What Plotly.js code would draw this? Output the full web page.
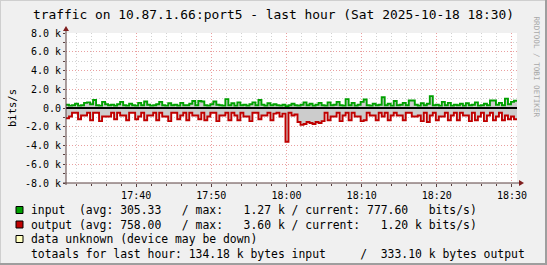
<!DOCTYPE html>
<html><head><meta charset="utf-8">
<script src="https://cdn.plot.ly/plotly-3.0.1.min.js"></script>
<style>html,body{margin:0;padding:0;background:#f0f0f0;}#chart{width:547px;height:265px;}</style>
</head><body><div id="chart"></div>
<script>
// ---- data ----
const titleText = "traffic on 10.87.1.66:port5 - last hour (Sat 2025-10-18 18:30)";
const startTime = "2025-10-18 17:30:40";
const endTime = "2025-10-18 18:30:40";
const stepSeconds = 24;
const inputBits = [
 350,250,300,450,250,300,550,600,400,850,
 300,250,650,400,300,350,250,400,650,300,
 250,450,300,250,550,300,700,350,250,300,
 400,650,300,250,500,300,350,250,550,300,
 300,450,750,300,750,700,300,250,400,700,
 350,300,250,950,300,500,250,600,300,350,
 250,400,600,300,850,350,250,500,300,400,
 300,250,350,200,300,450,300,250,350,600,
 300,450,250,350,550,300,250,600,300,350,
 650,300,250,950,300,550,250,350,650,900,
 300,250,450,300,350,1150,300,450,250,750,
 300,350,550,300,800,800,350,250,500,300,
 450,1270,300,350,250,650,300,550,250,350,
 300,450,250,500,300,350,600,250,300,450,
 300,800,800,350,550,300,1000,400,650,778
];
const outputBits = [
 -1100,-900,-500,-500,-1200,-800,-800,-500,-1300,-500,
 -500,-1400,-900,-900,-900,-500,-1200,-500,-800,-800,
 -1300,-500,-500,-1200,-900,-500,-1300,-800,-800,-500,
 -1300,-500,-900,-900,-1400,-500,-500,-1200,-800,-500,
 -1300,-500,-800,-800,-1200,-500,-1300,-900,-500,-500,
 -1400,-800,-800,-500,-1300,-500,-800,-1300,-500,-900,
 -900,-1400,-500,-500,-1200,-800,-800,-500,-1300,-600,
 -500,-900,-600,-3600,-500,-800,-700,-1500,-1800,-1700,
 -1500,-1600,-1700,-1500,-1600,-1400,-500,-1300,-900,-900,
 -500,-1400,-800,-500,-1300,-500,-900,-900,-1400,-1300,
 -500,-800,-800,-1300,-500,-900,-500,-1300,-800,-500,
 -800,-800,-1300,-500,-500,-900,-900,-800,-1400,-500,
 -1500,-800,-500,-1300,-900,-900,-500,-1300,-800,-500,
 -1300,-500,-800,-800,-1400,-500,-1300,-900,-500,-1400,
 -800,-500,-1300,-900,-500,-1300,-800,-1200,-900,-1200
];
const yTickVals = [-8000,-6000,-4000,-2000,0,2000,4000,6000,8000];
const yTickText = ["-8.0 k","-6.0 k","-4.0 k","-2.0 k","0.0","2.0 k","4.0 k","6.0 k","8.0 k"];
const yTitle = "bits/s";
const legendLines = [
 "input  (avg: 305.33   / max:   1.27 k / current: 777.60   bits/s)",
 "output (avg: 758.00   / max:   3.60 k / current:   1.20 k bits/s)",
 "data unknown (device may be down)",
 "totaals for last hour: 134.18 k bytes input     /  333.10 k bytes output"
];
const legendColors = ["#00a000","#c00000","#ffffc0",null];
const watermark = "RRDTOOL / TOBI OETIKER";

// ---- helpers ----
function pad(n){return (n<10?"0":"")+n;}
function timeAt(base, secs){
  const p = base.split(" ")[1].split(":").map(Number);
  let t = p[0]*3600+p[1]*60+p[2]+secs;
  return base.split(" ")[0]+" "+pad(Math.floor(t/3600))+":"+pad(Math.floor(t%3600/60))+":"+pad(t%60);
}
const xs = inputBits.map((_,i)=>timeAt(startTime, i*stepSeconds));
xs.push(endTime);
const inY = inputBits.concat([inputBits[inputBits.length-1]]);
const outY = outputBits.concat([outputBits[outputBits.length-1]]);

const L=66, R=517, T=33, B=183, W=547, H=265;
const px = x => (x-L)/(R-L);
const py = y => (B-y)/(B-T);
const mono = "DejaVu Sans Mono";
const nb = s => s.replace(/ /g,"\u00a0");

const traces = [
 {x:xs, y:inY, type:"scatter", mode:"lines", line:{shape:"hv", color:"#00a000", width:1.9},
  fill:"tozeroy", fillcolor:"#cccccc", hoverinfo:"skip"},
 {x:xs, y:outY, type:"scatter", mode:"lines", line:{shape:"hv", color:"#c00000", width:1.9},
  fill:"tozeroy", fillcolor:"#cccccc", hoverinfo:"skip"}
];

const shapes = [
 {type:"line", xref:"paper", yref:"y", x0:0, x1:1, y0:0, y1:0, line:{color:"#000", width:2}, layer:"above"},
 {type:"line", xref:"paper", yref:"paper", x0:px(L), x1:px(L), y0:py(B+2), y1:py(28), line:{color:"#5a4040", width:1}, layer:"above"},
 {type:"line", xref:"paper", yref:"paper", x0:px(L-3), x1:px(521), y0:py(B), y1:py(B), line:{color:"#5a4040", width:1}, layer:"above"},
 {type:"path", xref:"paper", yref:"paper", path:`M ${px(519)} ${py(180)} L ${px(524)} ${py(183)} L ${px(519)} ${py(186)} Z`, fillcolor:"#7f1f1f", line:{width:0}, layer:"above"},
 {type:"path", xref:"paper", yref:"paper", path:`M ${px(63)} ${py(31)} L ${px(66)} ${py(26)} L ${px(69)} ${py(31)} Z`, fillcolor:"#7f1f1f", line:{width:0}, layer:"above"},
 {type:"line", xref:"paper", yref:"paper", x0:px(0), x1:px(547), y0:py(0.5), y1:py(0.5), line:{color:"#cfcfcf", width:1}},
 {type:"line", xref:"paper", yref:"paper", x0:px(0.5), x1:px(0.5), y0:py(0), y1:py(265), line:{color:"#cfcfcf", width:1}},
 {type:"line", xref:"paper", yref:"paper", x0:px(0), x1:px(547), y0:py(264), y1:py(264), line:{color:"#9e9e9e", width:2}},
 {type:"line", xref:"paper", yref:"paper", x0:px(546), x1:px(546), y0:py(0), y1:py(265), line:{color:"#9e9e9e", width:2}}
];

const annotations = [];
const lineY = [210, 224.5, 239, 253.5];
legendLines.forEach((t,i)=>{
  annotations.push({xref:"paper", yref:"paper", x:px(29.5), y:py(lineY[i]), xanchor:"left", yanchor:"middle",
    text:nb(t), showarrow:false, font:{family:mono, size:11.4, color:"#000"}, borderpad:0});
  if(legendColors[i]){
    shapes.push({type:"rect", xref:"paper", yref:"paper", x0:px(16), x1:px(23), y0:py(lineY[i]-3.5), y1:py(lineY[i]+3.5),
      fillcolor:legendColors[i], line:{color:"#000", width:1}});
  }
});
annotations.push({xref:"paper", yref:"paper", x:px(536), y:py(14), xanchor:"center", yanchor:"top",
  text:nb(watermark), textangle:90, showarrow:false, font:{family:mono, size:7.6, color:"#a8a8a8"}});

const layout = {
  width:W, height:H,
  margin:{l:L, r:W-R, t:T, b:H-B, pad:0},
  paper_bgcolor:"#f0f0f0", plot_bgcolor:"#ffffff",
  showlegend:false,
  title:{text:titleText, font:{family:mono, size:12.9, color:"#000"}, x:0.5, xref:"container", xanchor:"center",
         y:1-14/H, yref:"container", yanchor:"middle"},
  xaxis:{type:"date", range:[startTime,endTime], tickformat:"%H:%M", tick0:"2025-10-18 17:40:00", dtick:600000,
    ticks:"outside", ticklen:3, tickcolor:"#5a4040", showline:false, zeroline:false,
    showgrid:true, gridcolor:"#eaa0a0", griddash:"1px,2px", gridwidth:1,
    tickfont:{family:mono, size:10, color:"#000"},
    minor:{dtick:120000, tick0:"2025-10-18 17:40:00", showgrid:true, gridcolor:"#d2d2d2", griddash:"1px,2px", ticks:"outside", ticklen:2, tickcolor:"#5a4040"},
    fixedrange:true},
  yaxis:{range:[-8000,8000], tickvals:yTickVals, ticktext:yTickText, ticks:"outside", ticklen:2, tickcolor:"#5a4040",
    showline:false, zeroline:false, showgrid:true, gridcolor:"#eaa0a0", griddash:"1px,2px",
    tickfont:{family:mono, size:10, color:"#000"},
    minor:{dtick:1000, showgrid:true, gridcolor:"#d2d2d2", griddash:"1px,2px", ticks:"outside", ticklen:2, tickcolor:"#5a4040"},
    title:{text:yTitle, font:{family:mono, size:10.5, color:"#000"}, standoff:6},
    fixedrange:true},
  shapes:shapes,
  annotations:annotations
};
Plotly.newPlot("chart", traces, layout, {staticPlot:true, displayModeBar:false});
</script></body></html>
